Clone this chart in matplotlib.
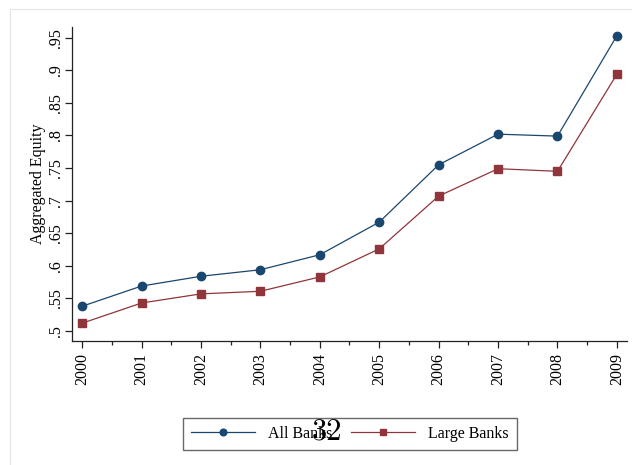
import matplotlib.pyplot as plt
from matplotlib.lines import Line2D
from matplotlib.ticker import MultipleLocator

years = [2000, 2001, 2002, 2003, 2004, 2005, 2006, 2007, 2008, 2009]
all_banks = [0.538, 0.569, 0.584, 0.594, 0.617, 0.667, 0.755, 0.802, 0.799, 0.953]
large_banks = [0.512, 0.543, 0.557, 0.561, 0.583, 0.626, 0.707, 0.749, 0.745, 0.894]
y_ticks = [0.5, 0.55, 0.6, 0.65, 0.7, 0.75, 0.8, 0.85, 0.9, 0.95]
y_labels = ['.5', '.55', '.6', '.65', '.7', '.75', '.8', '.85', '.9', '.95']

navy = '#1a476f'
maroon = '#90353b'

plt.rcParams['font.family'] = ['Liberation Serif', 'DejaVu Serif']

W, H = 632, 465
fig = plt.figure(figsize=(W / 100, H / 100), dpi=100)

# light page border (top and left)
fig.add_artist(Line2D([9.5 / W, 9.5 / W], [0, 1 - 9.5 / H], color='#e6e6e6', lw=0.8))
fig.add_artist(Line2D([9.5 / W, 1], [1 - 9.5 / H, 1 - 9.5 / H], color='#e6e6e6', lw=0.8))

ax = fig.add_axes([72 / W, 1 - 341 / H, (627 - 72) / W, (341 - 27) / H])
ax.plot(years, all_banks, color=navy, lw=0.9, marker='o', ms=6, label='All Banks')
ax.plot(years, large_banks, color=maroon, lw=0.9, marker='s', ms=6, label='Large Banks')

ax.set_xlim(1999.83, 2009.17)
ax.set_ylim(0.4847, 0.9664)
ax.set_xticks(years)
ax.set_xticklabels([str(y) for y in years], rotation=90, fontsize=11.5)
ax.xaxis.set_minor_locator(MultipleLocator(0.5))
ax.set_yticks(y_ticks)
ax.set_yticklabels(y_labels, rotation=90, va='center', fontsize=11.5)
ax.tick_params(which='major', length=5, width=0.9, color='#222222')
ax.tick_params(which='minor', length=3, width=0.9, color='#222222')
ax.tick_params(axis='y', pad=1)
ax.set_ylabel('Aggregated Equity', fontsize=11.5, labelpad=1)

for s in ['top', 'right']:
    ax.spines[s].set_visible(False)
for s in ['left', 'bottom']:
    ax.spines[s].set_linewidth(0.9)
    ax.spines[s].set_color('#222222')

leg = fig.legend(loc='center', bbox_to_anchor=(350 / W, 1 - 434 / H), ncol=2,
                 fontsize=11.5, frameon=True, fancybox=False, handlelength=4,
                 columnspacing=1.2, borderpad=0.5, markerscale=0.8)
leg.get_frame().set_edgecolor('#444444')
leg.get_frame().set_linewidth(1.0)

# page number overlaid on the legend
page = fig.text(327 / W, 1 - 432 / H, '32', fontsize=22, family='cmr10',
                ha='center', va='center')
page.set_zorder(10)

fig.savefig('out.png', dpi=100)
